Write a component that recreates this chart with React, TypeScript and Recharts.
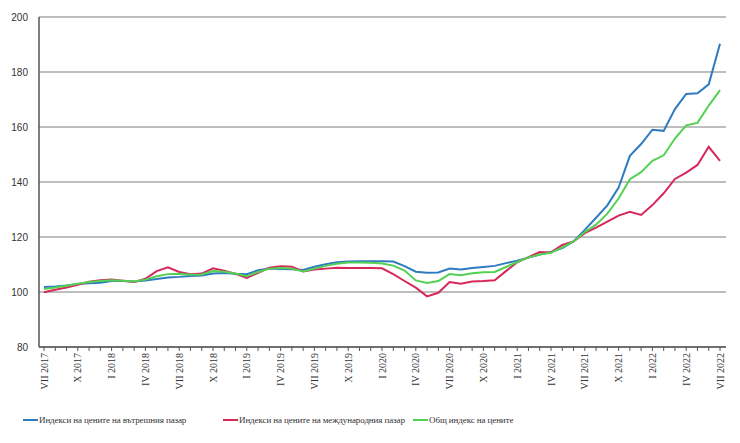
import { LineChart, Line, XAxis, YAxis, CartesianGrid, Legend } from 'recharts'

const romanMonths = ['I', 'II', 'III', 'IV', 'V', 'VI', 'VII', 'VIII', 'IX', 'X', 'XI', 'XII']

// VII 2017 ... VII 2022, one label per month
const periods: string[] = []
for (let k = 0; k < 61; k++) {
  const m = (6 + k) % 12
  const y = 2017 + Math.floor((6 + k) / 12)
  periods.push(`${romanMonths[m]} ${y}`)
}

const domestic = [
  101.8, 102, 102.4, 102.9, 103.2, 103.4, 104, 104, 103.8, 104.2,
  104.7, 105.3, 105.5, 105.8, 106, 106.7, 106.9, 106.6, 106.5, 107.9,
  108.5, 108.4, 108.3, 108, 109.2, 110.1, 110.8, 111.1, 111.2, 111.2,
  111.2, 111.1, 109.4, 107.4, 107, 107.1, 108.5, 108.2, 108.7, 109.1,
  109.5, 110.5, 111.4, 112.5, 113.6, 114.6, 116, 118.4, 122.6, 127,
  131.5, 138, 149.5, 153.8, 159, 158.6, 166.5, 172, 172.3, 175.5,
  190.3,
]

const international = [
  99.9, 100.8, 101.6, 102.6, 103.7, 104.3, 104.5, 104.1, 103.6, 104.8,
  107.6, 109, 107.3, 106.5, 106.7, 108.6, 107.7, 106.6, 105.1, 107,
  108.8, 109.4, 109.2, 107.5, 108.2, 108.5, 108.8, 108.7, 108.7, 108.7,
  108.6, 106.5, 104, 101.6, 98.4, 99.7, 103.6, 103, 103.8, 104,
  104.3, 107.6, 110.8, 112.7, 114.5, 114.4, 117.1, 118.4, 121.4, 123.4,
  125.6, 127.8, 129.2, 128, 131.6, 135.9, 141.1, 143.4, 146.2, 152.8,
  147.7,
]

const total = [
  101.1, 101.6, 102.3, 103, 103.6, 104, 104.3, 104.1, 103.8, 104.5,
  105.7, 106.5, 106.6, 106.3, 106.4, 107.6, 107.4, 106.7, 105.7, 107.3,
  108.5, 108.7, 108.5, 107.5, 108.5, 109.5, 110.3, 110.7, 110.7, 110.6,
  110.4, 109.6, 107.8, 104.2, 103.3, 104, 106.5, 106.1, 106.8, 107.2,
  107.3, 109.1, 110.9, 112.6, 113.6, 114.3, 116.2, 118.4, 121.8, 124.5,
  128.5, 134, 141, 143.6, 147.7, 149.7, 155.8, 160.6, 161.5, 167.8,
  173.4,
]

const yTicks = [80, 100, 120, 140, 160, 180, 200]

const seriesNames = [
  'Индекси на цените на вътрешния пазар',
  'Индекси на цените на международния пазар',
  'Общ индекс на цените',
]
const seriesColors = ['#2f7bc0', '#d7285a', '#52d152']

const data = periods.map((p, i) => ({
  period: p,
  domestic: domestic[i],
  international: international[i],
  total: total[i],
}))

const XTick = ({ x, y, payload, index }: any) => {
  if (index % 3 !== 0) return null
  return (
    <text
      x={x}
      y={y}
      transform={`rotate(-90 ${x} ${y})`}
      textAnchor="end"
      dominantBaseline="central"
      fontFamily="'Liberation Serif', serif"
      fontSize={10}
      fill="#333"
    >
      {payload.value}
    </text>
  )
}

const legendLeft = [23, 223, 413]

const LegendContent = () => (
  <div style={{ position: 'relative', width: 740, height: 20 }}>
    {seriesNames.map((name, i) => (
      <div
        key={name}
        style={{
          position: 'absolute',
          left: legendLeft[i],
          top: 0,
          height: 20,
          display: 'flex',
          alignItems: 'center',
          fontFamily: "'Liberation Serif', serif",
          fontSize: 9,
          letterSpacing: -0.1,
          color: '#333',
          whiteSpace: 'nowrap',
        }}
      >
        <span style={{ display: 'inline-block', width: 15, height: 2, background: seriesColors[i], marginRight: 1 }} />
        {name}
      </div>
    ))}
  </div>
)

export default function App() {
  return (
    <div style={{ position: 'absolute', left: 0, top: 0, background: '#fff' }}>
      <LineChart width={740} height={443} data={data} margin={{ top: 17, right: 14, left: 0, bottom: 26 }}>
        <CartesianGrid vertical={false} stroke="#a9a9a9" strokeWidth={1.3} />
        <XAxis
          dataKey="period"
          interval={0}
          padding={{ left: 5, right: 6 }}
          height={50}
          tick={<XTick />}
          tickSize={4}
          tickMargin={2}
          tickLine={{ stroke: '#555' }}
          axisLine={{ stroke: '#555', strokeWidth: 1.5 }}
        />
        <YAxis
          width={39}
          domain={[80, 200]}
          ticks={yTicks}
          interval={0}
          tickSize={0}
          tickMargin={11}
          tickLine={false}
          axisLine={{ stroke: '#555', strokeWidth: 1.5 }}
          tick={{ fontFamily: "'Liberation Sans', sans-serif", fontSize: 10, fill: '#333' }}
        />
        <Legend
          verticalAlign="bottom"
          content={<LegendContent />}
          wrapperStyle={{ left: 0, top: 410, width: 740, height: 20 }}
        />
        <Line dataKey="domestic" name={seriesNames[0]} stroke={seriesColors[0]} strokeWidth={2} dot={false} isAnimationActive={false} />
        <Line dataKey="international" name={seriesNames[1]} stroke={seriesColors[1]} strokeWidth={2} dot={false} isAnimationActive={false} />
        <Line dataKey="total" name={seriesNames[2]} stroke={seriesColors[2]} strokeWidth={2} dot={false} isAnimationActive={false} />
      </LineChart>
    </div>
  )
}
